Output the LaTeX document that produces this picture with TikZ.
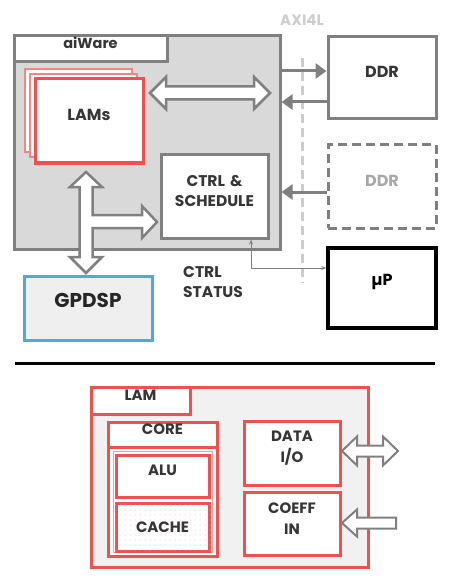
\documentclass[tikz,border=0pt]{standalone}
\usepackage{fontspec}
\setmainfont{Poppins}
\usetikzlibrary{arrows.meta,fit,patterns.meta}
\definecolor{bordergray}{HTML}{808080}
\definecolor{boxgray}{HTML}{D9D9D9}
\definecolor{lamred}{HTML}{F0514F}
\definecolor{lamfill}{HTML}{F1F1F1}
\definecolor{dspblue}{HTML}{4BACD6}
\definecolor{dspfill}{HTML}{EFEFEF}
\definecolor{axigray}{HTML}{CDCDCD}
\definecolor{txt}{HTML}{363636}
\definecolor{fadetxt}{HTML}{A8A8A8}
\tikzdeclarepattern{
  name=sparsedots,
  type=uncolored,
  bottom left={(-1pt,-1pt)},
  top right={(1pt,1pt)},
  tile size={(5pt,5pt)},
  code={\fill (0pt,0pt) circle (0.5pt);}
}
\tikzset{
  gbox/.style={draw=bordergray, line width=3pt, fill=white, inner sep=0pt, font=\bfseries, text=txt},
  rbox/.style={draw=lamred, line width=3pt, fill=white, inner sep=0pt, font=\bfseries, text=txt},
  hollow/.style={draw=bordergray, fill=white, line width=2.5pt, line join=miter},
  busarrow/.style={draw=bordergray, line width=3pt, -{Triangle[length=11pt,width=15pt]}},
  thinarrow/.style={draw=bordergray, line width=1pt, {Stealth[length=5pt,width=4pt]}-{Stealth[length=5pt,width=4pt]}},
  lbl/.style={font=\bfseries, text=txt, inner sep=0pt},
  bigtxt/.style={font=\fontsize{16}{19}\selectfont\bfseries},
  smalltxt/.style={font=\fontsize{15}{21}\selectfont\bfseries}
}
\begin{document}
\begin{tikzpicture}[x=1pt,y=-1pt]
\useasboundingbox (0,0) rectangle (450,580);
% ---------- top: aiWare ----------
\node[gbox, fill=boxgray, fit={(14,36)(280,249)}] (aiware) {};
\node[gbox, fit={(14,36)(167,62)}, font=\fontsize{14.5}{17}\selectfont\bfseries] (aiwarelbl) {aiWare};
% LAMs stack
\node[rbox, draw=lamred!70, line width=1.2pt, fit={(25,69)(132,152)}] (lamsback) {};
\node[rbox, draw=lamred!70, line width=1.2pt, fit={(30,74)(137,157)}] (lamsmid) {};
\node[rbox, fit={(35,79)(143,163)}, bigtxt] (lams) {LAMs};
% CTRL & SCHEDULE
\node[gbox, fit={(161,155)(268,238)}, align=center, font=\fontsize{15.5}{20}\selectfont\bfseries] (ctrl) {CTRL \&\\SCHEDULE};
% hollow double arrow LAMs <-> DDR side
\filldraw[hollow] (150,93) -- (166,77) -- (166,86.5) -- (254,86.5) -- (254,77) -- (270,93)
  -- (254,109) -- (254,99.5) -- (166,99.5) -- (166,109) -- cycle;
% T arrow LAMs <-> GPDSP and -> CTRL
\filldraw[hollow] (86,172) -- (102,187) -- (92.5,187) -- (92.5,215) -- (142,215) -- (142,206)
  -- (157,222) -- (142,238) -- (142,228) -- (92.5,228) -- (92.5,257) -- (102,257) -- (86,273)
  -- (70,257) -- (79.5,257) -- (79.5,187) -- (70,187) -- cycle;
% GPDSP
\node[gbox, draw=dspblue, fill=dspfill, fit={(24,276)(152,340)}, font=\fontsize{20}{24}\selectfont\bfseries, text=black!85] (gpdsp) {GPDSP};
% CTRL STATUS label
\node[lbl, anchor=west, align=left, font=\fontsize{15.5}{20}\selectfont\bfseries] (ctrlstatus) at (183,282) {CTRL\\STATUS};
% ---------- right column ----------
\node[lbl, text=axigray, font=\fontsize{15}{17}\selectfont\bfseries] (axi) at (302,20) {AXI4L};
\coordinate (bustop) at (302,58);
\coordinate (busbot) at (302,283);
\draw[axigray, line width=3pt, dash pattern=on 9pt off 5pt] (bustop) -- (busbot);
\node[gbox, fit={(328,37)(436,119)}, bigtxt] (ddr1) {DDR};
\node[gbox, dashed, dash pattern=on 9pt off 5pt, fit={(328,145)(436,228)}, text=fadetxt, bigtxt] (ddr2) {DDR};
\node[gbox, draw=black, line width=3.5pt, fit={(328,248)(436,328)}, text=black, bigtxt] (up) {µP};
% bus arrows
\draw[busarrow] (aiware.east |- 0,71) -- (ddr1.west |- 0,71);
\draw[busarrow] (ddr1.west |- 0,102) -- (aiware.east |- 0,102);
\draw[busarrow] (ddr2.west |- 0,192) -- (aiware.east |- 0,192);
% control / status line
\coordinate (bend) at (251,268);
\draw[thinarrow] (ctrl.south -| bend) -- (bend) -- (up.west |- bend);
% separator
\coordinate (sepL) at (15,363);
\coordinate (sepR) at (435,363);
\draw[black, line width=3pt] (sepL) -- (sepR);
% ---------- bottom: LAM detail ----------
\node[rbox, fill=lamfill, fit={(91,387)(368,567)}] (lam) {};
\node[rbox, fit={(91,387)(190,414)}, smalltxt] (lamlbl) {LAM};
\node[rbox, fit={(108,422)(217,556)}] (core) {};
\node[rbox, fit={(108,422)(217,447)}, smalltxt] (corelbl) {CORE};
\node[rbox, draw=lamred!55, line width=1pt, fit={(113,451)(212,552)}] (coreinner) {};
\node[rbox, fit={(116,455)(209,497)}, smalltxt] (alu) {ALU};
\node[rbox, fill=white, fit={(116,503)(209,551)}] (cachebg) {};
\fill[pattern=sparsedots, pattern color=lamred!40] (cachebg.south west) rectangle (cachebg.north east);
\node[lbl, smalltxt] (cache) at (cachebg.center) {CACHE};
\node[rbox, fit={(244,421)(340,485)}, align=center, smalltxt] (dataio) {DATA\\I/O};
\node[rbox, fit={(244,492)(340,555)}, align=center, smalltxt] (coeff) {COEFF\\IN};
% hollow arrows at LAM
\filldraw[hollow, line width=2pt] (342,451) -- (357,436.5) -- (357,445.5) -- (383,445.5) -- (383,436.5) -- (398,451)
  -- (383,465.5) -- (383,456.5) -- (357,456.5) -- (357,465.5) -- cycle;
\filldraw[hollow, line width=2pt] (342,523) -- (357,509.5) -- (357,517.5) -- (396,517.5) -- (396,528.5)
  -- (357,528.5) -- (357,536.5) -- cycle;
\end{tikzpicture}
\end{document}
